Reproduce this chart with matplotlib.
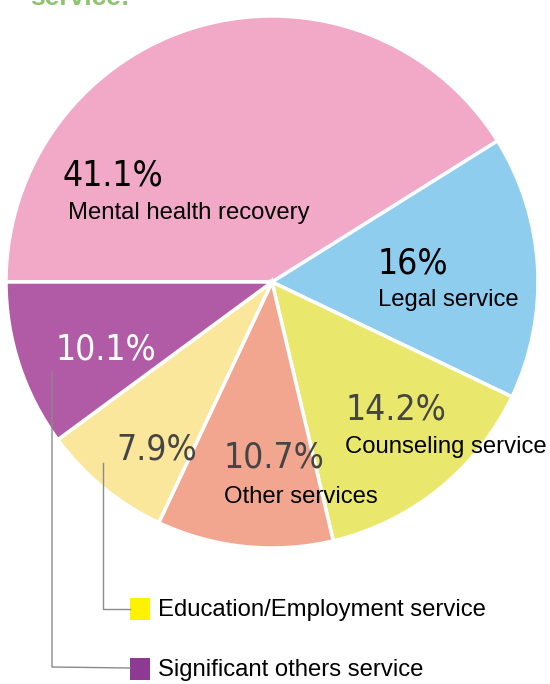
#!/usr/bin/env python3

import matplotlib
matplotlib.use('Agg')
from matplotlib import pyplot as plt
from matplotlib.patches import Rectangle

# Service shares (%), clockwise starting from the left horizontal edge
services = ['Mental health recovery', 'Legal service', 'Counseling service',
            'Other services', 'Education/Employment service',
            'Significant others service']
shares = [41.1, 16, 14.2, 10.7, 7.9, 10.1]
pct_labels = ['41.1%', '16%', '14.2%', '10.7%', '7.9%', '10.1%']
colors = ['#f2a8c7', '#8fcdef', '#e9e86c', '#f2a68f', '#fae79b', '#b15ba7']

W, H = 550, 684


def y(py):
    # pixel row -> data y (axis runs bottom-up)
    return H - py


def main():
    fig = plt.figure(figsize=(5.5, 6.84), dpi=100)
    ax = fig.add_axes([0, 0, 1, 1])

    ax.pie(shares, colors=colors, startangle=180, counterclock=False,
           center=(272, y(282)), radius=266, frame=True,
           wedgeprops=dict(edgecolor='white', linewidth=2.5))
    ax.set_xlim(0, W)
    ax.set_ylim(0, H)
    ax.set_aspect('equal')
    ax.axis('off')

    # cut-off title at the top
    ax.text(30, y(-2), 'service:', color='#8dc46f', fontsize=19,
            fontweight='bold', family='Liberation Sans', va='center')

    big = dict(family='DejaVu Sans', fontstretch='condensed', fontsize=25.5,
               va='center', ha='left')
    small = dict(family='Liberation Sans', fontsize=17.2, va='center',
                 ha='left', color='black')

    # percentages
    pct_pos = [(62, 176, 'black'), (378, 264, 'black'), (346, 410, '#454545'),
               (224, 458, '#454545'), (116, 449, '#454545'), (56, 349, 'white')]
    for lab, (px, py, c) in zip(pct_labels, pct_pos):
        ax.text(px, y(py), lab, color=c, **big)

    # in-slice names
    name_pos = [(68, 213), (378, 300), (345, 447), (224, 497)]
    for name, (px, py) in zip(services[:4], name_pos):
        ax.text(px, y(py), name, **small)

    # leader lines and legend keys
    ax.plot([103, 103, 130], [y(463), y(609), y(609)], color='#8a8a8a', lw=1)
    ax.plot([52, 52, 130], [y(372), y(667), y(668)], color='#8a8a8a', lw=1)
    ax.add_patch(Rectangle((130, y(620)), 20, 22, color='#fff200', lw=0))
    ax.add_patch(Rectangle((130, y(680)), 20, 22, color='#8e3a93', lw=0))
    ax.text(158, y(610), services[4], **small)
    ax.text(158, y(670), services[5], **small)

    fig.savefig('out.png', dpi=100, facecolor='white')


if __name__ == "__main__":
    main()
